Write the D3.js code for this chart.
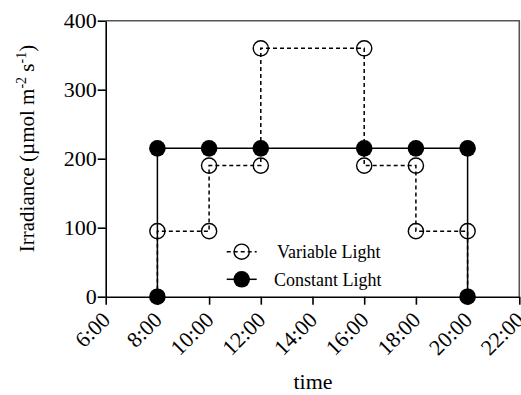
<!DOCTYPE html>
<html>
<head>
<meta charset="utf-8">
<script src="https://cdn.jsdelivr.net/npm/d3@7"></script>
<style>
  html, body { margin: 0; padding: 0; background: #fff; }
  svg, svg text { font-family: 'Liberation Serif', 'Times New Roman', Times, serif !important; }
  svg { display: block; }
</style>
</head>
<body>
<svg id="chart" width="521" height="395"></svg>
<script>
// ---- data ----
const variableHours  = [8, 8, 10, 10, 12, 12, 16, 16, 18, 18, 20, 20];
const variableValues = [0, 95, 95, 190, 190, 360, 360, 190, 190, 95, 95, 0];
const constantHours  = [8, 8, 10, 12, 16, 18, 20, 20];
const constantValues = [0, 215, 215, 215, 215, 215, 215, 0];
const xTickHours  = [6, 8, 10, 12, 14, 16, 18, 20, 22];
const xTickLabels = ["6:00", "8:00", "10:00", "12:00", "14:00", "16:00", "18:00", "20:00", "22:00"];
const yTicks = [0, 100, 200, 300, 400];
const seriesNames = ["Variable Light", "Constant Light"];

// ---- layout ----
const pLeft = 105.7, pRight = 519.3, pTop = 20.7, pBottom = 296.7;
const svg = d3.select("#chart");
const x = d3.scaleLinear().domain([6, 22]).range([pLeft, pRight]);
const y = d3.scaleLinear().domain([0, 400]).range([pBottom, pTop]);

// frame (top and right)
svg.append("path")
  .attr("d", `M${pLeft},${pTop}H${pRight}V${pBottom}`)
  .attr("fill", "none").attr("stroke", "#555").attr("stroke-width", 1.6);

// y axis
const yAxis = d3.axisLeft(y).tickValues(yTicks).tickSize(8).tickPadding(1).tickSizeOuter(0);
const gy = svg.append("g").attr("transform", `translate(${pLeft},0)`).call(yAxis);
gy.attr("font-family", null);
gy.select(".domain").attr("stroke", "#000").attr("stroke-width", 1.6);
gy.selectAll(".tick line").attr("stroke", "#000").attr("stroke-width", 1.6);
gy.selectAll(".tick text").attr("font-size", 22).attr("fill", "#000");

// x axis
const xAxis = d3.axisBottom(x).tickValues(xTickHours).tickSize(8).tickSizeOuter(0)
  .tickFormat((d, i) => xTickLabels[i]);
const gx = svg.append("g").attr("transform", `translate(0,${pBottom})`).call(xAxis);
gx.attr("font-family", null);
gx.select(".domain").attr("stroke", "#000").attr("stroke-width", 1.6);
gx.selectAll(".tick line").attr("stroke", "#000").attr("stroke-width", 1.6);
gx.selectAll(".tick text")
  .attr("font-size", 22).attr("fill", "#000")
  .attr("text-anchor", "end")
  .attr("y", 0).attr("dy", "0.35em")
  .attr("transform", "translate(0,19) rotate(-45)");

// axis titles
svg.append("text")
  .attr("transform", `translate(27,148.5) rotate(-90)`)
  .attr("text-anchor", "middle").attr("dy", "0.35em")
  .attr("font-size", 21).attr("fill", "#000")
  .html('Irradiance (µmol m<tspan dy="-8" font-size="14">-2</tspan><tspan dy="8"> s</tspan><tspan dy="-8" font-size="14">-1</tspan><tspan dy="8">)</tspan>');

svg.append("text")
  .attr("x", 313).attr("y", 389)
  .attr("text-anchor", "middle")
  .attr("font-size", 22).attr("fill", "#000")
  .text("time");

// ---- series ----
const varData = variableHours.map((h, i) => ({h, v: variableValues[i]}));
const conData = constantHours.map((h, i) => ({h, v: constantValues[i]}));
const line = d3.line().x(d => x(d.h)).y(d => y(d.v));

svg.append("path").datum(varData).attr("d", line)
  .attr("fill", "none").attr("stroke", "#000").attr("stroke-width", 1.5)
  .attr("stroke-dasharray", "4,3");

svg.append("path").datum(conData).attr("d", line)
  .attr("fill", "none").attr("stroke", "#000").attr("stroke-width", 1.5);

svg.append("g").selectAll("circle").data(conData).join("circle")
  .attr("cx", d => x(d.h)).attr("cy", d => y(d.v)).attr("r", 8.3)
  .attr("fill", "#000");

svg.append("g").selectAll("circle").data(varData.filter(d => d.v > 0)).join("circle")
  .attr("cx", d => x(d.h)).attr("cy", d => y(d.v)).attr("r", 7.6)
  .attr("fill", "none").attr("stroke", "#000").attr("stroke-width", 1.4);

// ---- legend ----
const leg = svg.append("g");
const legRows = [
  {name: seriesNames[0], cy: 251.7, tx: 277, dashed: true},
  {name: seriesNames[1], cy: 279.3, tx: 274, dashed: false}
];
legRows.forEach(r => {
  leg.append("line").attr("x1", 226.7).attr("x2", 256.7).attr("y1", r.cy).attr("y2", r.cy)
    .attr("stroke", "#000").attr("stroke-width", 1.5)
    .attr("stroke-dasharray", r.dashed ? "4,3" : null);
  leg.append("circle").attr("cx", 241.7).attr("cy", r.cy).attr("r", r.dashed ? 7.6 : 8.3)
    .attr("fill", r.dashed ? "none" : "#000").attr("stroke", "#000")
    .attr("stroke-width", r.dashed ? 1.4 : 0);
  leg.append("text").attr("x", r.tx).attr("y", r.cy).attr("dy", "0.35em")
    .attr("font-size", 18).attr("fill", "#000").text(r.name);
});
</script>
</body>
</html>
